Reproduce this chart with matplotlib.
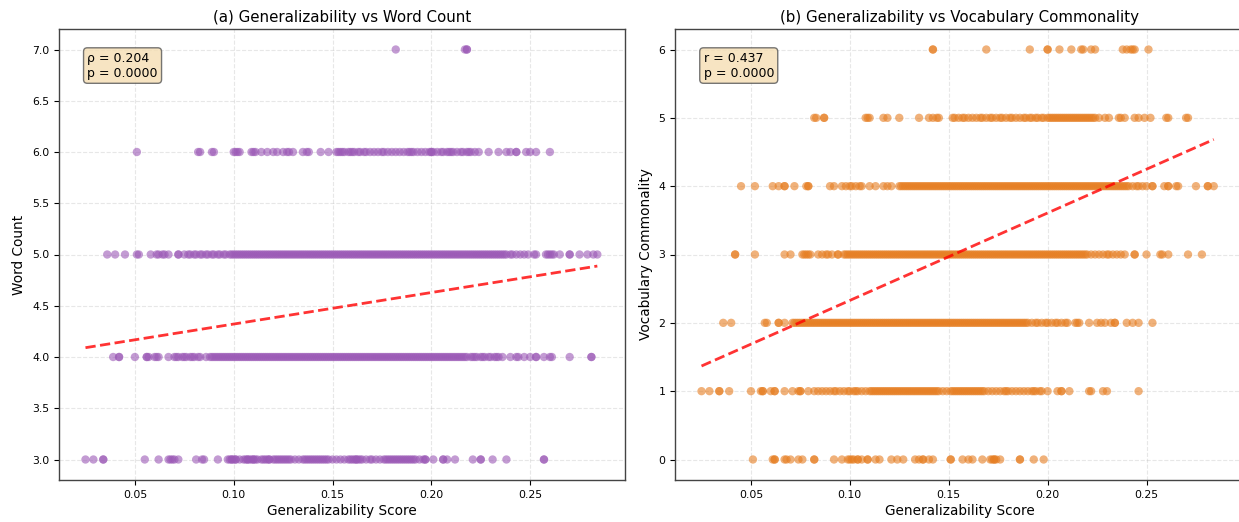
import numpy as np
import matplotlib
matplotlib.use('Agg')
import matplotlib.pyplot as plt

# ---- Data (x = generalizability score, in thousandths) ----
# Panel (a): Word Count levels
wc7_x = [182, 217, 218, 218]
wc6_x = [51, 82, 83, 89, 90, 100, 101, 102, 103, 109, 110, 111, 114, 117, 120, 122, 125, 127, 128, 130,
         135, 137, 138, 144, 148, 152, 153, 154, 155, 156, 158, 159, 160, 161, 163, 164, 166, 167, 169, 171,
         173, 175, 176, 178, 180, 182, 184, 186, 188, 189, 190, 191, 193, 195, 197, 199, 200, 200, 201, 203,
         205, 206, 208, 209, 210, 211, 213, 215, 216, 218, 219, 220, 222, 224, 229, 234, 238, 240, 243, 243,
         248, 250, 253, 260]
wc5_x = [36, 40, 45, 51, 52, 58, 61, 62, 64, 65, 67, 72, 72, 75, 77, 78, 80, 81, 83, 84, 86, 87, 89, 90, 92,
         93, 95, 96,
         98, 99, 100, 101, 102, 103, 104, 105, 106, 107, 108, 109, 110, 111, 112, 113, 114, 115, 116, 117,
         118, 119, 120, 121, 122, 123, 124, 125, 126, 127, 128, 129, 130, 131, 132, 133, 134, 135, 136, 137,
         138, 139, 140, 141, 142, 143, 144, 145, 146, 147, 148, 149, 150, 151, 152, 153, 154, 155, 156, 157,
         158, 159, 160, 161, 162, 163, 164, 165, 166, 167, 168, 169, 170, 171, 172, 173, 174, 175, 176, 177,
         178, 179, 180, 181, 182, 183, 184, 185, 186, 187, 188, 189, 190, 191, 192, 193, 194, 195, 196, 197,
         198, 199, 200, 201, 202, 203, 204, 205, 206, 207, 208, 209, 210, 211, 212, 213, 214, 215, 216, 217,
         218, 219, 220, 221, 222, 223, 224, 225, 226, 227, 228, 229, 230, 231, 232, 233, 234, 235, 236, 237,
         238, 240,
         241, 243, 245, 247, 249, 252, 253, 258, 259, 260, 261, 262, 265, 270, 270, 275, 279, 282, 284]
wc4_x = [39, 42, 42, 50, 56, 56, 57, 60, 61, 62, 67, 70, 71, 72, 74, 75, 76, 78, 79, 80, 82, 83, 86,
         88, 89, 90, 91, 92, 93, 94, 95, 96, 97, 98, 99, 100, 101, 102, 103, 104, 105, 106, 107, 108, 109,
         110, 111, 112, 113, 114, 115, 116, 117, 118, 119, 120, 121, 122, 123, 124, 125, 126, 127, 128, 129,
         130, 131, 132, 133, 134, 135, 136, 137, 138, 139, 140, 141, 142, 143, 144, 145, 146, 147, 148, 149,
         150, 151, 152, 153, 154, 155, 156, 157, 158, 159, 160, 161, 162, 163, 164, 165, 166, 167, 168, 169,
         170, 171, 172, 173, 174, 175, 176, 177, 178, 179, 180, 181, 182, 183, 184, 185, 186, 187, 188, 189,
         190, 191, 192, 193, 194, 195, 196, 197, 198, 199, 200, 201, 202, 203, 204, 205, 206, 207, 208, 209,
         210, 211, 212, 213, 214, 215, 216, 217, 218,
         220, 221, 222, 223, 225, 226, 227, 229, 230, 232, 233, 234, 236, 240, 243, 244, 247, 250, 253, 253,
         257, 260, 261, 270, 281, 281]
wc3_x = [25, 29, 34, 34, 55, 62, 67, 68, 69, 70, 72, 81, 84, 85, 92, 97, 98, 99, 99, 100, 101, 101, 103, 105,
         106, 107, 107, 108, 109, 110, 110, 111, 112, 114, 115, 116, 117, 118, 118, 120, 121, 122, 123, 124,
         125, 126, 127, 128, 129, 131, 133, 135, 136, 137, 138, 139, 140, 141, 142, 143, 144, 145, 146, 147,
         148, 150, 152, 154, 156, 158, 159, 160, 161, 162, 162, 163, 164, 165, 167, 169, 170, 172, 174, 176,
         177, 178, 179, 180, 181, 182, 183, 184, 185, 186, 187, 188, 189, 190, 191, 192, 194, 196, 197, 197,
         201, 206, 206, 208, 212, 221, 225, 225, 231, 238, 257, 257]

# Panel (b): Vocabulary Commonality levels
vc6_x = [142, 142, 169, 191, 200, 200, 206, 212, 217, 218, 222, 224, 238, 240, 242, 243, 244, 251]
vc5_x = [82, 83, 87, 87, 108, 109, 110, 117, 119, 125, 135, 140, 142, 144, 145, 152, 153, 155, 157, 158,
         160, 162, 164, 166, 167, 169, 171, 172, 174, 176, 177, 179, 181, 182, 184, 186, 188, 189, 191, 192,
         194, 195, 197, 198, 200, 201, 202, 203, 204, 205, 206, 207, 208, 209, 210, 211, 212, 213, 214, 215,
         216, 217, 218, 219, 220, 221, 222, 223, 224, 226, 229, 231, 236, 237, 239, 244, 246, 249, 252, 260,
         261, 270, 271]
vc4_x = [45, 52, 61, 64, 67, 67, 72, 78, 79, 79, 90, 92, 96, 98, 100, 101, 103, 105, 106, 110, 113, 117,
         119, 121,
         125, 126, 127, 128, 129, 130, 131, 132, 133, 134, 135, 136, 137, 138, 139, 140, 141, 142, 143, 144,
         145, 146, 147, 148, 149, 150, 151, 152, 153, 154, 155, 156, 157, 158, 159, 160, 161, 162, 163, 164,
         165, 166, 167, 168, 169, 170, 171, 172, 173, 174, 175, 176, 177, 178, 179, 180, 181, 182, 183, 184,
         185, 186, 187, 188, 189, 190, 191, 192, 193, 194, 195, 196, 197, 198, 199, 200, 201, 202, 203, 204,
         205, 206, 207, 208, 209, 210, 211, 212, 213, 214, 215, 216, 217, 218, 219, 220, 221, 222, 223, 224,
         225, 226, 227, 228, 229, 230, 231, 232, 233, 234, 235, 236, 237, 238, 239, 240, 241, 243, 245, 246,
         248, 250, 253, 253, 259, 261, 261, 265, 266, 275, 281, 281, 284]
vc3_x = [42, 42, 52, 67, 70, 76, 77, 78, 79, 80, 84, 86, 88, 89, 91, 94, 94,
         97, 98, 99, 100, 101, 102, 103, 104, 105, 106, 107, 108, 109, 110, 111, 112, 113, 114, 115, 116,
         117, 118, 119, 120, 121, 122, 123, 124, 125, 126, 127, 128, 129, 130, 131, 132, 133, 134, 135, 136,
         137, 138, 139, 140, 141, 142, 143, 144, 145, 146, 147, 148, 149, 150, 151, 152, 153, 154, 155, 156,
         157, 158, 159, 160, 161, 162, 163, 164, 165, 166, 167, 168, 169, 170, 171, 172, 173, 174, 175, 176,
         177, 178, 179, 180, 181, 182, 183, 184, 185, 186, 187, 188, 189, 190, 191, 192, 193, 194, 195, 196,
         197, 198, 199, 200, 201, 202, 203, 204, 205, 206, 207, 208, 209, 210, 211, 212, 213, 214, 215, 216,
         217, 218, 219, 220,
         222, 224, 226, 228, 230, 231, 233, 235, 237, 239, 244, 244, 250, 257, 258, 261, 271, 278]
vc2_x = [36, 40, 57, 58, 64, 64, 67,
         71, 72, 73, 74, 75, 76, 77, 78, 79, 80, 81, 82, 83, 84, 85, 86, 87, 88, 89, 90, 91, 92, 93, 94, 95,
         96, 97, 98, 99, 100, 101, 102, 103, 104, 105, 106, 107, 108, 109, 110, 111, 112, 113, 114, 115, 116,
         117, 118, 119, 120, 121, 122, 123, 124, 125, 126, 127, 128, 129, 130, 131, 132, 133, 134, 135, 136,
         137, 138, 139, 140, 141, 142, 143, 144, 145, 146, 147, 148, 149, 150, 151, 152, 153, 154, 155, 156,
         157, 158, 159, 160, 161, 162, 163, 164, 165, 166, 167, 168, 169, 170, 171, 172, 173, 174, 175, 176,
         177, 178, 179, 180, 181, 182, 183, 184, 185, 186, 187, 188, 189, 190, 192, 194, 195, 197, 199, 200,
         202, 204, 205, 207, 209, 210,
         214, 215, 216, 221, 225, 227, 229, 232, 234, 234, 240, 243, 246, 253]
vc1_x = [25, 29, 34, 34, 39, 50, 55, 56, 56, 60, 62, 62, 67, 71, 74, 75, 75, 79, 82, 84, 86, 88, 90, 92, 93,
         95, 97, 99, 100, 102, 103, 104, 106, 108, 110, 111, 112, 113, 114, 115, 116, 117, 118, 119, 120,
         121, 122, 123, 124, 125, 126, 127, 128, 129, 130, 131, 132, 133, 134, 135, 136, 137, 138, 139, 140,
         141, 142, 143, 144, 145, 147, 149, 151, 152, 153, 154, 155, 156, 157, 158, 159, 160, 161, 162, 163,
         164, 165, 166, 167, 168, 170, 172, 174, 176, 178, 179, 180, 182, 184, 186, 188, 190, 192, 193, 194,
         196, 197, 200, 205, 207, 207, 211, 221, 222, 228, 230, 246]
vc0_x = [51, 61, 62, 62, 67, 68, 70, 74, 76, 82, 82, 92, 96, 99, 100, 101, 102, 104, 104, 106, 109, 109,
         113, 115, 121, 124, 127, 133, 135, 137, 137, 140, 142, 151, 151, 157, 160, 162, 167, 171, 172, 173,
         173, 174, 176, 186, 186, 193, 198]

wc_levels = [3, 4, 5, 6, 7]
vc_levels = [0, 1, 2, 3, 4, 5, 6]

# regression fits (y = slope * x + intercept)
wc_fit_slope, wc_fit_intercept = 3.075, 4.014
vc_fit_slope, vc_fit_intercept = 12.80, 1.048
wc_stat_text = "ρ = 0.204\np = 0.0000"
vc_stat_text = "r = 0.437\np = 0.0000"

titles = ["(a) Generalizability vs Word Count", "(b) Generalizability vs Vocabulary Commonality"]
xlabel = "Generalizability Score"
ylabels = ["Word Count", "Vocabulary Commonality"]

PURPLE = "#9b59b6"
ORANGE = "#e67e22"

fig = plt.figure(figsize=(12.39, 5.22), dpi=100)
ax1 = fig.add_axes([59 / 1239, 42 / 522, 566 / 1239, 451 / 522])
ax2 = fig.add_axes([675 / 1239, 42 / 522, 570 / 1239, 451 / 522])

wc_rows = [wc3_x, wc4_x, wc5_x, wc6_x, wc7_x]
vc_rows = [vc0_x, vc1_x, vc2_x, vc3_x, vc4_x, vc5_x, vc6_x]


def draw(ax, levels, rows, color, slope, intercept, stat, title, ylabel, xlim):
    allx = []
    for lvl, xs in zip(levels, rows):
        xv = np.array(xs) / 1000.0
        allx.extend(xv)
        ax.scatter(xv, np.full(len(xv), lvl), s=36, c=color, alpha=0.6,
                   edgecolors='none', zorder=2)
    xmin, xmax = min(allx), max(allx)
    xl = np.array([xmin, xmax])
    ax.plot(xl, slope * xl + intercept, color='red', linestyle='--', linewidth=2,
            alpha=0.8, zorder=3)
    ax.set_xlim(*xlim)
    ax.set_title(title, fontsize=10.8, pad=5)
    ax.set_xlabel(xlabel, fontsize=9.8, labelpad=3)
    ax.set_ylabel(ylabel, fontsize=9.8)
    ax.tick_params(labelsize=7.8)
    ax.grid(True, linestyle='--', alpha=0.3)
    ax.set_axisbelow(True)
    for sp in ax.spines.values():
        sp.set_color('#444444')
        sp.set_linewidth(1.0)
    ax.text(0.05, 0.95, stat, transform=ax.transAxes, fontsize=9, va='top', ha='left',
            bbox=dict(boxstyle='round,pad=0.3', facecolor='wheat', alpha=0.8, edgecolor='#555555'),
            zorder=5)


draw(ax1, wc_levels, wc_rows, PURPLE, wc_fit_slope, wc_fit_intercept, wc_stat_text, titles[0], ylabels[0],
     (0.0116, 0.298))
draw(ax2, vc_levels, vc_rows, ORANGE, vc_fit_slope, vc_fit_intercept, vc_stat_text, titles[1], ylabels[1],
     (0.0116, 0.2998))

fig.savefig("out.png", dpi=100)
